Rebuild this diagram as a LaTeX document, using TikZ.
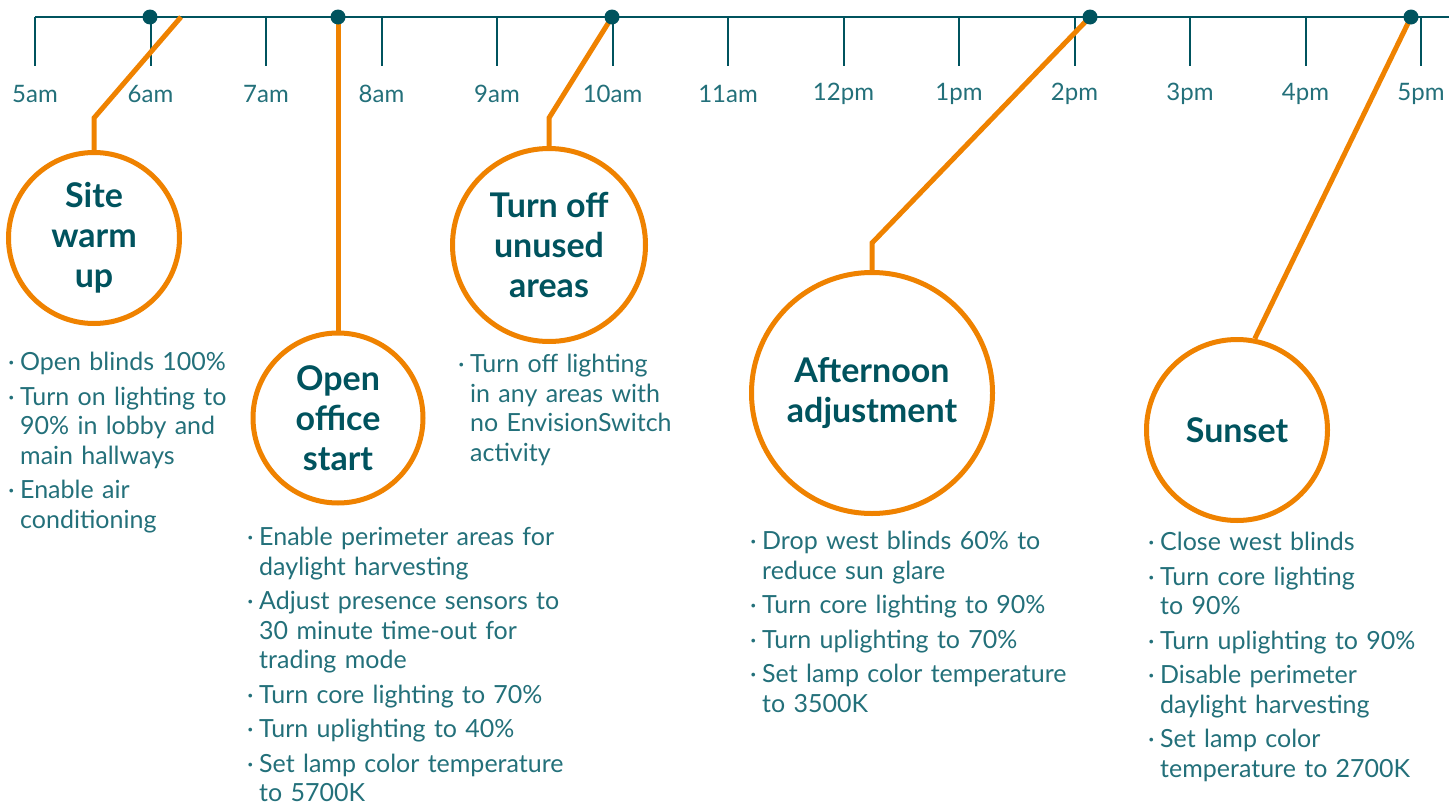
\documentclass[tikz,border=0pt]{standalone}
\usepackage{fontspec}
\setmainfont{Lato}

\definecolor{pteal}{HTML}{00535E}
\definecolor{ptext}{HTML}{23707A}
\definecolor{porange}{HTML}{EF8200}

\newcommand{\itm}[1]{\par\noindent\hangindent=12pt\hangafter=1\makebox[12pt][l]{·}\strut
  \begingroup\let\\\newline#1\endgroup\par}

\tikzset{
  axis/.style={draw=pteal, line width=2pt},
  hour/.style={text=ptext, font=\fontsize{24}{28}\selectfont},
  dot/.style={circle, fill=pteal, inner sep=0pt, minimum size=15pt},
  link/.style={draw=porange, line width=5pt},
  stage/.style={circle, draw=porange, line width=5pt, fill=white, inner sep=0pt,
    align=center, text=pteal, font=\fontsize{34}{40}\selectfont\bfseries},
  notes/.style={anchor=north west, inner sep=0pt, text width=360pt,
    text=ptext, font=\fontsize{25}{29.5}\selectfont\raggedright\setlength{\parskip}{5pt}}
}

\begin{document}
\begin{tikzpicture}[x=1pt, y=-1pt]

  \useasboundingbox (0,0) rectangle (1449,803);

  % time axis
  \draw[axis, line width=1.5pt] (35,17) -- (1449,17);
  \foreach \lab [count=\i from 0] in {5am,6am,7am,8am,9am,10am,11am,12pm,1pm,2pm,3pm,4pm,5pm} {
    \draw[axis] (35+115.5*\i,17) -- ++(0,49);
    \node[hour] (h\i) at (35+115.5*\i,94) {\lab};
  }

  % stages
  \node[stage, minimum size=171pt] (c1) at (94,238) {Site\\warm\\up};
  \node[stage, minimum size=170pt] (c2) at (338,418) {Open\\office\\start};
  \node[stage, minimum size=193pt] (c3) at (549,245) {Turn off\\unused\\areas};
  \node[stage, minimum size=241pt] (c4) at (872,393) {Afternoon\\adjustment};
  \node[stage, minimum size=181pt] (c5) at (1237,430) {Sunset};

  % links
  \coordinate (s1) at (181,17);
  \coordinate (b1) at (94,118);
  \coordinate (b3) at (549,118);
  \coordinate (b4) at (872,243);
  \draw[link] (s1) -- (b1) -- (c1.north);
  \draw[link] (338,17) -- (c2.north);
  \draw[link] (612,17) -- (b3) -- (c3.north);
  \draw[link] (1090,17) -- (b4) -- (c4.north);
  \draw[link] (1411,17) -- (c5.79);

  % dots
  \node[dot] (d1) at (150,17) {};
  \node[dot] (d2) at (338,17) {};
  \node[dot] (d3) at (612,17) {};
  \node[dot] (d4) at (1090,17) {};
  \node[dot] (d5) at (1411,17) {};

  % notes
  \node[notes] (n1) at (8,336) {%
    \itm{Open blinds 100\%}
    \itm{Turn on lighting to\\90\% in lobby and\\main hallways}
    \itm{Enable air\\conditioning}};
  \node[notes] (n2) at (247,511) {%
    \itm{Enable perimeter areas for\\daylight harvesting}
    \itm{Adjust presence sensors to\\30 minute time-out for\\trading mode}
    \itm{Turn core lighting to 70\%}
    \itm{Turn uplighting to 40\%}
    \itm{Set lamp color temperature\\to 5700K}};
  \node[notes] (n3) at (458,338) {%
    \itm{Turn off lighting\\in any areas with\\no EnvisionSwitch\\activity}};
  \node[notes] (n4) at (750,515) {%
    \itm{Drop west blinds 60\% to\\reduce sun glare}
    \itm{Turn core lighting to 90\%}
    \itm{Turn uplighting to 70\%}
    \itm{Set lamp color temperature\\to 3500K}};
  \node[notes] (n5) at (1148,516) {%
    \itm{Close west blinds}
    \itm{Turn core lighting\\to 90\%}
    \itm{Turn uplighting to 90\%}
    \itm{Disable perimeter\\daylight harvesting}
    \itm{Set lamp color\\temperature to 2700K}};

\end{tikzpicture}
\end{document}
